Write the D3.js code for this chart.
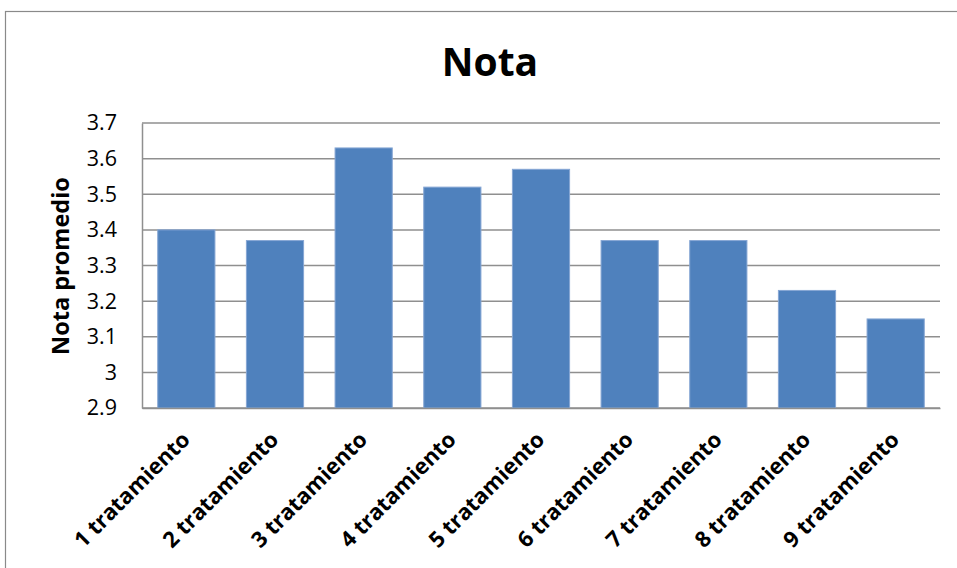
<!DOCTYPE html>
<html>
<head>
<meta charset="utf-8">
<script src="https://cdn.jsdelivr.net/npm/d3@7"></script>
<style>
  html, body { margin: 0; padding: 0; background: #fff; }
  svg { display: block; }
</style>
</head>
<body>
<svg id="chart" width="957" height="568"></svg>
<script>
// Average grade per treatment
const categories = ["1 tratamiento", "2 tratamiento", "3 tratamiento", "4 tratamiento",
  "5 tratamiento", "6 tratamiento", "7 tratamiento", "8 tratamiento", "9 tratamiento"];
const values = [3.40, 3.37, 3.63, 3.52, 3.57, 3.37, 3.37, 3.23, 3.15];
const yTicks = [2.9, 3.0, 3.1, 3.2, 3.3, 3.4, 3.5, 3.6, 3.7];
const chartTitle = "Nota";
const yTitle = "Nota promedio";

const svg = d3.select("#chart");
const W = 957, H = 568;
const plot = { left: 142, right: 940, top: 123, bottom: 408 };
const font = "'Open Sans', 'Noto Sans', sans-serif";

// outer frame of the chart area
svg.append("rect")
  .attr("x", 5.5).attr("y", 11.5)
  .attr("width", W + 10).attr("height", H + 10)
  .attr("fill", "#fff").attr("stroke", "#8a8a8a").attr("stroke-width", 1.2);

const x = d3.scaleBand().domain(categories)
  .range([plot.left, plot.right]).paddingInner(0.355).paddingOuter(0.1775);
const y = d3.scaleLinear().domain([2.9, 3.7]).range([plot.bottom, plot.top]);

// horizontal gridlines
svg.append("g").selectAll("line").data(yTicks).join("line")
  .attr("x1", plot.left).attr("x2", plot.right)
  .attr("y1", d => y(d)).attr("y2", d => y(d))
  .attr("stroke", "#8f8f8f").attr("stroke-width", 1.5);

// bars
svg.append("g").selectAll("rect").data(values).join("rect")
  .attr("x", (d, i) => x(categories[i]))
  .attr("y", d => y(d))
  .attr("width", x.bandwidth())
  .attr("height", d => plot.bottom - y(d))
  .attr("fill", "#4F81BD")
  .attr("stroke", "#86a6d4").attr("stroke-width", 1);

// y axis
const yAxis = d3.axisLeft(y).tickValues(yTicks)
  .tickFormat(d => d3.format("")(+d.toFixed(1)))
  .tickSize(0).tickPadding(25);
const gy = svg.append("g").attr("transform", `translate(${plot.left},0)`).call(yAxis);
gy.select(".domain").attr("stroke", "#8f8f8f").attr("stroke-width", 1.5);
gy.selectAll("text").attr("font-family", font).attr("font-size", 21.5).attr("fill", "#000");

// x axis baseline
const xAxis = d3.axisBottom(x).tickSize(0).tickFormat(() => "");
const gx = svg.append("g").attr("transform", `translate(0,${plot.bottom})`).call(xAxis);
gx.select(".domain").attr("stroke", "#8f8f8f").attr("stroke-width", 1.5);

// rotated category labels
svg.append("g").selectAll("text").data(categories).join("text")
  .attr("transform", d => `translate(${x(d) + x.bandwidth() / 2 + 5},${plot.bottom + 33}) rotate(-45)`)
  .attr("text-anchor", "end")
  .attr("font-family", font).attr("font-weight", "bold").attr("font-size", 22)
  .attr("fill", "#000")
  .text(d => d);

// title
svg.append("text")
  .attr("x", 490).attr("y", 76)
  .attr("text-anchor", "middle")
  .attr("font-family", font).attr("font-weight", "bold").attr("font-size", 39)
  .attr("fill", "#000")
  .text(chartTitle);

// y axis title
svg.append("text")
  .attr("transform", `translate(69,266) rotate(-90)`)
  .attr("text-anchor", "middle")
  .attr("font-family", font).attr("font-weight", "bold").attr("font-size", 23.5)
  .attr("fill", "#000")
  .text(yTitle);
</script>
</body>
</html>
